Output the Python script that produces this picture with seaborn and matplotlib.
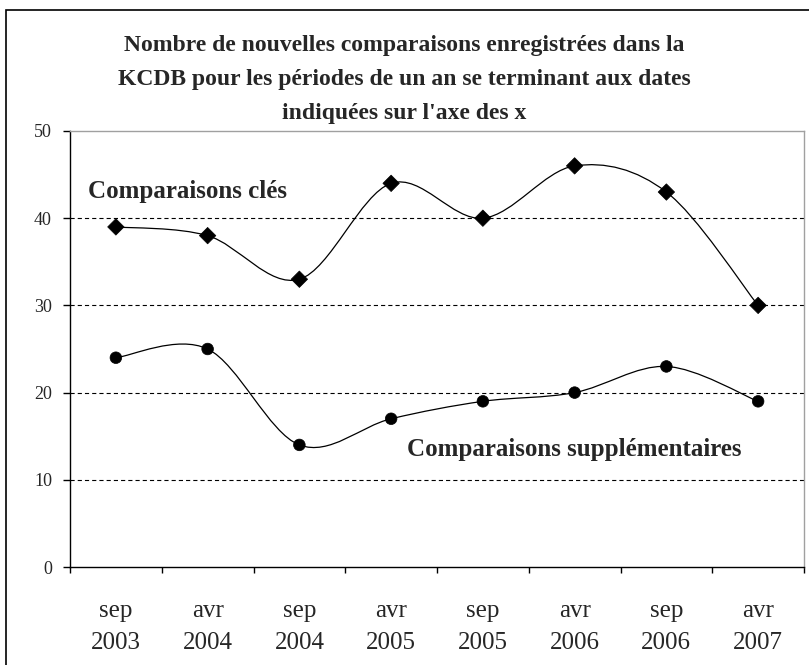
import matplotlib
matplotlib.use("Agg")
import matplotlib.pyplot as plt
from matplotlib.path import Path
from matplotlib.patches import PathPatch, Rectangle
import numpy as np
import pandas as pd
import seaborn as sns

# ---- data ----
months = ["sep", "avr", "sep", "avr", "sep", "avr", "sep", "avr"]
years = ["2003", "2004", "2004", "2005", "2005", "2006", "2006", "2007"]
cles = [39, 38, 33, 44, 40, 46, 43, 30]
supp = [24, 25, 14, 17, 19, 20, 23, 19]
title_lines = [
    "Nombre de nouvelles comparaisons enregistrées dans la",
    "KCDB pour les périodes de un an se terminant aux dates",
    "indiquées sur l'axe des x",
]
label_cles = "Comparaisons clés"
label_supp = "Comparaisons supplémentaires"

sns.set_theme(style="white")
plt.rcParams["font.family"] = ["Liberation Serif", "DejaVu Serif"]
plt.rcParams["lines.scale_dashes"] = False

W, H = 809, 665
fig = plt.figure(figsize=(W / 100, H / 100), dpi=100)
fig.patch.set_facecolor("white")
ax = fig.add_axes([70 / W, 1 - 567 / H, (804 - 70) / W, (567 - 131) / H])
ax.set_facecolor("white")

pos = list(range(len(months)))
df = pd.DataFrame({"pos": pos * 2,
                   "val": cles + supp,
                   "serie": [label_cles] * len(cles) + [label_supp] * len(supp)})


def smooth_path(xs, ys):
    pts = np.column_stack([xs, ys]).astype(float)
    n = len(pts)
    verts = [pts[0]]
    codes = [Path.MOVETO]
    for i in range(n - 1):
        p0 = pts[i - 1] if i > 0 else pts[i]
        p1 = pts[i]
        p2 = pts[i + 1]
        p3 = pts[i + 2] if i + 2 < n else pts[i + 1]
        c1 = p1 + (p2 - p0) / 6.0
        c2 = p2 - (p3 - p1) / 6.0
        verts += [c1, c2, p2]
        codes += [Path.CURVE4] * 3
    return Path(verts, codes)


for vals in (cles, supp):
    ax.add_patch(PathPatch(smooth_path(pos, vals), facecolor="none",
                           edgecolor="black", lw=0.9, zorder=3))

sns.scatterplot(data=df, x="pos", y="val", style="serie", hue="serie",
                markers={label_cles: "D", label_supp: "o"},
                palette={label_cles: "black", label_supp: "black"},
                s=70, edgecolor="black", linewidth=0.5, legend=False,
                ax=ax, zorder=4)

ax.set_xlim(-0.5, len(months) - 0.5)
ax.set_ylim(0, 50)
ax.set_xlabel("")
ax.set_ylabel("")

# grid
for g in (10, 20, 30, 40):
    ax.axhline(g, color="black", lw=0.8, dashes=(3.0, 2.2), zorder=1)

# spines
ax.spines["left"].set_color("black")
ax.spines["bottom"].set_color("black")
ax.spines["left"].set_linewidth(1.0)
ax.spines["bottom"].set_linewidth(1.0)
ax.spines["top"].set_color("#a0a0a0")
ax.spines["right"].set_color("#a0a0a0")
ax.spines["top"].set_linewidth(1.0)
ax.spines["right"].set_linewidth(1.0)

# ticks
ax.set_yticks(range(0, 51, 10))
ax.set_yticklabels([str(v) for v in range(0, 51, 10)], fontsize=13)
ax.tick_params(axis="y", which="major", direction="out", length=5, width=1,
               color="black", pad=8, left=True)
ax.set_xticks(np.arange(-0.5, len(months), 1.0))
ax.set_xticklabels([""] * (len(months) + 1))
ax.tick_params(axis="x", which="major", direction="out", length=4.5, width=1,
               color="black", bottom=True)
ax.set_xticks(pos, minor=True)
ax.set_xticklabels([f"{m}\n{y}" for m, y in zip(months, years)], minor=True,
                   fontsize=18, linespacing=1.62)
ax.tick_params(axis="x", which="minor", length=0, pad=23.5)

# annotations
ax.text(-0.30, 43.1, label_cles, fontsize=18, fontweight="bold",
        ha="left", va="center")
ax.text(5.0, 13.45, label_supp, fontsize=18, fontweight="bold",
        ha="center", va="center")

# title
for i, (line, yy) in enumerate(zip(title_lines, [45, 80, 113])):
    fig.text(404 / W, 1 - yy / H, line, fontsize=17, fontweight="bold",
             ha="center", va="center")

# outer chart border
fig.patches.append(Rectangle((6 / W, -0.1), 1.2, 1 - 10 / H + 0.1,
                             transform=fig.transFigure, fill=False,
                             edgecolor="black", lw=1.2))

fig.savefig("out.png", dpi=100)
